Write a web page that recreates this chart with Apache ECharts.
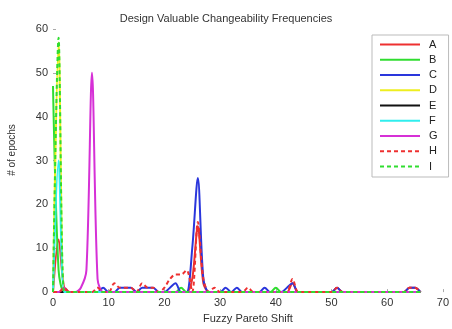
<!DOCTYPE html>
<html>
<head>
<meta charset="utf-8">
<script src="https://cdn.jsdelivr.net/npm/echarts@6/dist/echarts.min.js"></script>
<style>
  html, body { margin: 0; padding: 0; background: #fff; }
  #chart { width: 452px; height: 329px; }
</style>
</head>
<body>
<div id="chart"></div>
<script>
// Shift values 0..66 on the x axis; one count per shift for each design
const shifts = Array.from({ length: 67 }, (_, i) => i);
const xTicks = [0, 10, 20, 30, 40, 50, 60, 70];
const yTicks = [0, 10, 20, 30, 40, 50, 60];
const seriesNames = ['A', 'B', 'C', 'D', 'E', 'F', 'G', 'H', 'I'];

//               0 1 2 3 4 5 6 7 8 9
const valuesA = [0,12,1,0,0,0,0,0,0,0,
                 0,0,0,0,0,0,0,0,0,0,
                 0,0,0,0,0,3,15,2,0,0,
                 0,0,0,0,0,0,0,0,0,0,
                 0,0,0,2,0,0,0,0,0,0,
                 0,1,0,0,0,0,0,0,0,0,
                 0,0,0,0,1,1,0];
const valuesB = [47,5,0,0,0,0,0,0,0,0,
                 0,0,0,0,0,0,0,0,0,0,
                 0,0,0,1,0,0,0,0,0,0,
                 0,0,0,0,0,0,0,0,0,0,
                 1,0,0,0,0,0,0,0,0,0,
                 0,0,0,0,0,0,0,0,0,0,
                 0,0,0,0,0,0,0];
const valuesC = [0,0,0,0,0,0,0,0,0,1,
                 0,0,1,1,1,0,1,1,1,0,
                 0,1,2,0,0,10,26,3,0,0,
                 0,1,0,1,0,0,0,0,1,0,
                 0,0,1,2,0,0,0,0,0,0,
                 0,1,0,0,0,0,0,0,0,0,
                 0,0,0,0,1,1,0];
const valuesD = [0,57,0,0,0,0,0,0,0,0,
                 0,0,0,0,0,0,0,0,0,0,
                 0,0,0,0,0,0,0,0,0,0,
                 0,0,0,0,0,0,0,0,0,0,
                 0,0,0,0,0,0,0,0,0,0,
                 0,0,0,0,0,0,0,0,0,0,
                 0,0,0,0,0,0,0];
const valuesE = [0,0,0,0,0,0,0,0,0,0,
                 0,0,0,0,0,0,0,0,0,0,
                 0,0,0,0,0,0,0,0,0,0,
                 0,0,0,0,0,0,0,0,0,0,
                 0,0,0,0,0,0,0,0,0,0,
                 0,0,0,0,0,0,0,0,0,0,
                 0,0,0,0,0,0,0];
const valuesF = [0,30,0,0,0,0,0,0,0,0,
                 0,0,0,0,0,0,0,0,0,0,
                 0,0,0,0,0,0,0,0,0,0,
                 0,0,0,0,0,0,0,0,0,0,
                 0,0,0,0,0,0,0,0,0,0,
                 0,0,0,0,0,0,0,0,0,0,
                 0,0,0,0,0,0,0];
const valuesG = [0,0,1,0,0,1,5,50,3,0,
                 0,0,0,0,0,0,0,0,0,0,
                 0,0,0,0,0,0,0,0,0,0,
                 0,0,0,0,0,0,0,0,0,0,
                 0,0,0,0,0,0,0,0,0,0,
                 0,0,0,0,0,0,0,0,0,0,
                 0,0,0,0,0,0,0];
const valuesH = [0,0,1,0,0,0,0,0,1,0,
                 0,2,1,1,1,0,2,1,1,0,
                 1,3,4,4,5,0,16,3,0,1,
                 0,0,0,0,0,1,0,0,0,0,
                 0,0,0,3,0,0,0,0,0,0,
                 0,1,0,0,0,0,0,0,0,0,
                 0,0,0,0,1,1,0];
const valuesI = [0,58,0,0,0,0,0,0,0,0,
                 0,0,0,0,0,0,0,0,0,0,
                 0,0,0,0,0,0,0,0,0,0,
                 0,0,0,0,0,0,0,0,0,0,
                 0,0,0,0,0,0,0,0,0,0,
                 0,0,0,0,0,0,0,0,0,0,
                 0,0,0,0,0,0,0];

const allValues = [valuesA, valuesB, valuesC, valuesD, valuesE, valuesF, valuesG, valuesH, valuesI];
const colors = ['#ee3030', '#30dd30', '#2a36dc', '#eeee20', '#111111', '#30eeee', '#d630d6', '#ee3030', '#30dd30'];
const dashed = [false, false, false, false, false, false, false, true, true];
const font = 'Liberation Sans, Arial, sans-serif';

const chart = echarts.init(document.getElementById('chart'));

const series = seriesNames.map((name, k) => ({
  name,
  type: 'line',
  data: shifts.map((x, i) => [x, allValues[k][i]]),
  symbol: 'none',
  showSymbol: false,
  smooth: 0.3,
  clip: true,
  color: colors[k],
  lineStyle: { width: 2, color: colors[k], type: dashed[k] ? [4, 3] : 'solid' },
  emphasis: { disabled: true },
  animation: false
}));

chart.setOption({
  animation: false,
  backgroundColor: '#ffffff',
  title: {
    text: 'Design Valuable Changeability Frequencies',
    left: 'center',
    top: 8,
    textStyle: { fontFamily: font, fontSize: 11, fontWeight: 'normal', color: '#333' }
  },
  grid: { left: 53, right: 3, top: 29, bottom: 31 },
  legend: {
    orient: 'vertical',
    left: 372,
    top: 35,
    padding: [4, 11, 5, 7],
    itemWidth: 40,
    itemHeight: 12,
    itemGap: 4.25,
    borderColor: '#bbbbbb',
    borderWidth: 1,
    backgroundColor: '#ffffff',
    itemStyle: { opacity: 0 },
    textStyle: { fontFamily: font, fontSize: 11, color: '#222', padding: [0, 0, 0, 4] },
    data: seriesNames
  },
  xAxis: {
    type: 'value',
    min: 0,
    max: 70,
    interval: 10,
    name: 'Fuzzy Pareto Shift',
    nameLocation: 'middle',
    nameGap: 19,
    nameTextStyle: { fontFamily: font, fontSize: 11, color: '#333' },
    axisLine: { show: false },
    axisTick: { show: true, inside: true, length: 3, lineStyle: { color: '#aaa' } },
    axisLabel: { margin: 5, fontFamily: font, fontSize: 11, color: '#333',
      formatter: v => xTicks.includes(v) ? String(v) : '' },
    splitLine: { show: false }
  },
  yAxis: {
    type: 'value',
    min: 0,
    max: 60,
    interval: 10,
    axisLine: { show: false },
    axisTick: { show: true, inside: true, length: 3, lineStyle: { color: '#aaa' } },
    axisLabel: { margin: 5, fontFamily: font, fontSize: 11, color: '#333',
      formatter: v => yTicks.includes(v) ? String(v) : '' },
    splitLine: { show: false }
  },
  graphic: [{
    type: 'text',
    x: 12,
    y: 150,
    rotation: Math.PI / 2,
    style: {
      text: '# of epochs',
      fontFamily: font,
      fontSize: 10,
      fill: '#333',
      align: 'center',
      verticalAlign: 'middle'
    }
  }],
  series
});
</script>
</body>
</html>
